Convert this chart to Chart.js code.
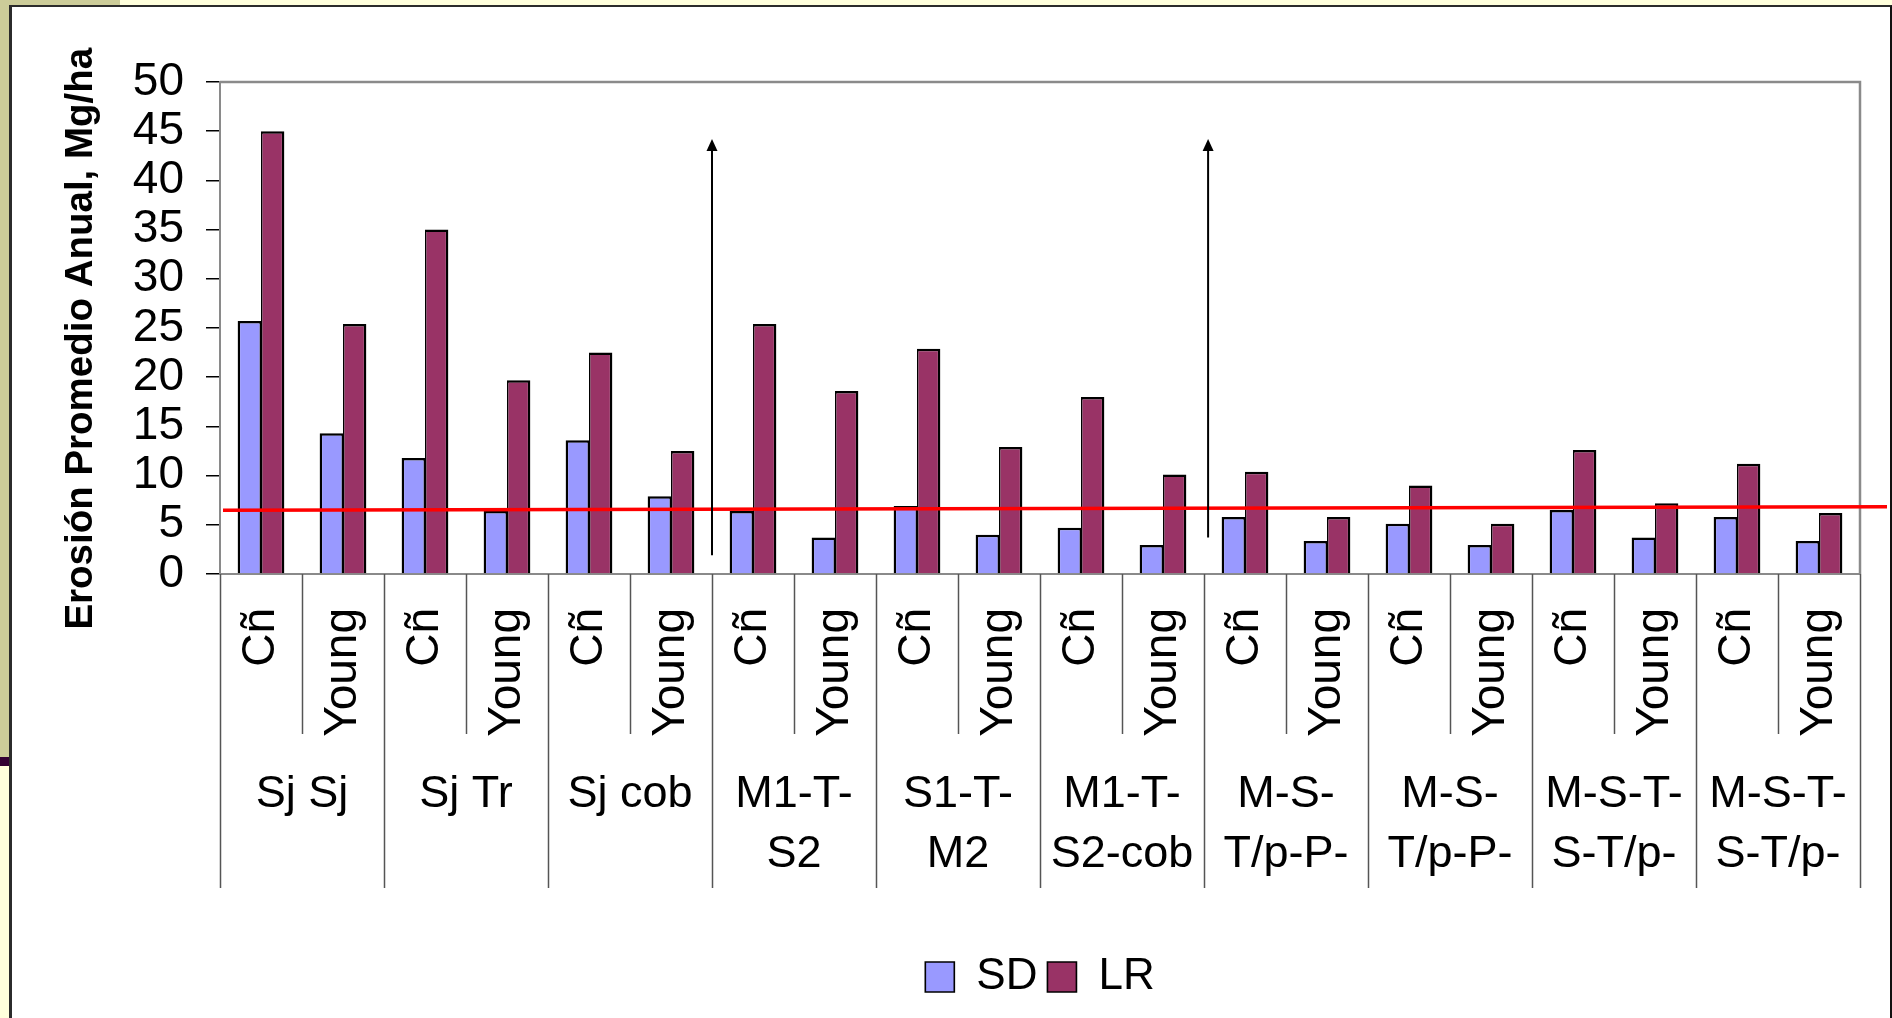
<!DOCTYPE html>
<html lang="es">
<head>
<meta charset="utf-8">
<title>Erosión promedio anual</title>
<script src="https://cdn.jsdelivr.net/npm/chart.js@4.4.1/dist/chart.umd.min.js"></script>
<style>
  html, body { margin: 0; padding: 0; }
  body { width: 1892px; height: 1018px; background: #ffffdc; position: relative; overflow: hidden; }
  .oliva { position: absolute; background: #cccc99; }
  .franja { position: absolute; left: 0; top: 757px; width: 10px; height: 9px; background: #330033; }
  #marco { position: absolute; left: 9px; top: 5px; width: 1883px; height: 1013px; box-sizing: border-box;
           background: #fff; border-left: 3px solid #2b2b2b; border-top: 2px solid #2b2b2b; border-right: 2px solid #111; }
  #grafico { position: absolute; left: 0; top: 0; }
</style>
</head>
<body>
<div class="oliva" style="left:0;top:0;width:120px;height:6px"></div>
<div class="oliva" style="left:0;top:0;width:10px;height:757px"></div>
<div class="franja"></div>
<div id="marco"></div>
<canvas id="grafico" width="1892" height="1018"></canvas>
<script>
// Datos del gráfico
const sistemas = [
    ['Sj Sj'], ['Sj Tr'], ['Sj cob'], ['M1-T-', 'S2'], ['S1-T-', 'M2'],
    ['M1-T-', 'S2-cob'], ['M-S-', 'T/p-P-'], ['M-S-', 'T/p-P-'], ['M-S-T-', 'S-T/p-'], ['M-S-T-', 'S-T/p-']
];
const variantes = ['Cñ', 'Young'];
const categorias = sistemas.flatMap(() => variantes);

const valoresSD = [25.7, 14.3, 11.8, 6.4, 13.6, 7.9, 6.4, 3.7, 6.9, 4.0, 4.7, 2.95, 5.8, 3.35, 5.1, 2.95, 6.5, 3.7, 5.8, 3.35];
const valoresLR = [45.0, 25.4, 35.0, 19.7, 22.5, 12.5, 25.4, 18.6, 22.9, 12.9, 18.0, 10.1, 10.4, 5.8, 9.0, 5.1, 12.6, 7.2, 11.2, 6.2];

const marcasY = [0, 5, 10, 15, 20, 25, 30, 35, 40, 45, 50];

// línea roja de tolerancia (valor al inicio y al final)
const lineaTolerancia = [6.47, 6.84];

// flechas verticales: posición en categorías y valores de inicio / fin
const flechasX = [5.5, 11.55];
const flechasDesde = [1.9, 3.7];
const flechasHasta = [44.2, 44.2];

const fuente = "'Liberation Sans', Arial, sans-serif";
Chart.defaults.font.family = fuente;
Chart.defaults.color = '#000';

// Dibuja ejes agrupados, línea roja, flechas y marco del área
const decoraciones = {
    id: 'decoraciones',
    afterDatasetsDraw(chart) {
        const {ctx, chartArea: a, scales: {x, y}} = chart;
        ctx.save();

        // marco superior y derecho del área de trazado
        ctx.strokeStyle = '#8a8a8a';
        ctx.lineWidth = 2.5;
        ctx.beginPath();
        ctx.moveTo(a.left, a.top);
        ctx.lineTo(a.right, a.top);
        ctx.lineTo(a.right, a.bottom);
        ctx.stroke();

        // línea roja
        ctx.strokeStyle = '#ff0000';
        ctx.lineWidth = 3.5;
        ctx.beginPath();
        ctx.moveTo(a.left + 3, y.getPixelForValue(lineaTolerancia[0]));
        ctx.lineTo(chart.width - 5, y.getPixelForValue(lineaTolerancia[1]));
        ctx.stroke();

        // flechas
        ctx.strokeStyle = '#000';
        ctx.fillStyle = '#000';
        ctx.lineWidth = 2;
        flechasX.forEach((fx, i) => {
            const px = x.getPixelForValue(fx);
            const y1 = y.getPixelForValue(flechasDesde[i]);
            const y2 = y.getPixelForValue(flechasHasta[i]);
            ctx.beginPath();
            ctx.moveTo(px, y1);
            ctx.lineTo(px, y2 + 10);
            ctx.stroke();
            ctx.beginPath();
            ctx.moveTo(px, y2);
            ctx.lineTo(px - 5.5, y2 + 12);
            ctx.lineTo(px + 5.5, y2 + 12);
            ctx.closePath();
            ctx.fill();
        });
        ctx.restore();
    },
    afterDraw(chart) {
        const {ctx, chartArea: a, scales: {x}} = chart;
        const mitad = (x.getPixelForValue(1) - x.getPixelForValue(0)) / 2;
        const inicio = x.getPixelForValue(0) - mitad;
        ctx.save();

        // separadores bajo el eje
        ctx.strokeStyle = '#555';
        ctx.lineWidth = 1.5;
        for (let k = 0; k <= categorias.length; k++) {
            const px = Math.round(inicio + k * 2 * mitad) + 0.5;
            ctx.beginPath();
            ctx.moveTo(px, a.bottom);
            ctx.lineTo(px, a.bottom + (k % 2 === 0 ? 314 : 160));
            ctx.stroke();
        }

        // nombres de los sistemas
        ctx.fillStyle = '#000';
        ctx.font = '45px ' + fuente;
        ctx.textAlign = 'center';
        ctx.textBaseline = 'middle';
        sistemas.forEach((lineas, g) => {
            const cx = (x.getPixelForValue(2 * g) + x.getPixelForValue(2 * g + 1)) / 2;
            lineas.forEach((t, j) => ctx.fillText(t, cx, a.bottom + 221 + j * 60));
        });
        ctx.restore();
    }
};

new Chart(document.getElementById('grafico'), {
    type: 'bar',
    data: {
        labels: categorias,
        datasets: [
            {
                label: 'SD',
                data: valoresSD,
                backgroundColor: '#9999ff',
                borderColor: '#000',
                borderWidth: {top: 2.5, left: 2.5, right: 1.5, bottom: 0},
                borderSkipped: false
            },
            {
                label: 'LR',
                data: valoresLR,
                backgroundColor: '#993366',
                borderColor: '#000',
                borderWidth: {top: 2.5, left: 1.5, right: 2.5, bottom: 0},
                borderSkipped: false
            }
        ]
    },
    options: {
        responsive: false,
        animation: false,
        events: [],
        layout: {padding: {left: 0, top: 82, right: 32, bottom: 9}},
        datasets: {bar: {barPercentage: 1, categoryPercentage: 0.57}},
        plugins: {
            legend: {
                position: 'bottom',
                fullSize: false,
                labels: {font: {size: 44}, color: '#000', boxWidth: 29, boxHeight: 30, padding: 10}
            },
            tooltip: {enabled: false}
        },
        scales: {
            x: {
                grid: {display: false, drawTicks: false},
                border: {color: '#8a8a8a', width: 2},
                ticks: {font: {size: 46}, color: '#000', minRotation: 90, maxRotation: 90, autoSkip: false, padding: 34},
                afterFit(s) {
                    s.height = 371;
                    s.paddingLeft = 0;
                    s.paddingRight = 0;
                }
            },
            y: {
                min: 0,
                max: 50,
                afterBuildTicks(s) { s.ticks = marcasY.map(v => ({value: v})); },
                grid: {drawOnChartArea: false, tickLength: 14, color: '#000', lineWidth: 1.5},
                border: {color: '#8a8a8a', width: 2},
                ticks: {font: {size: 46}, color: '#000', padding: 22, autoSkip: false},
                title: {
                    display: true,
                    text: 'Erosión Promedio Anual, Mg/ha  ',
                    font: {size: 38.5, weight: 'bold'},
                    color: '#000',
                    padding: {top: 58, bottom: 0}
                },
                afterFit(s) { s.width = 220; }
            }
        }
    },
    plugins: [decoraciones]
});
</script>
</body>
</html>
